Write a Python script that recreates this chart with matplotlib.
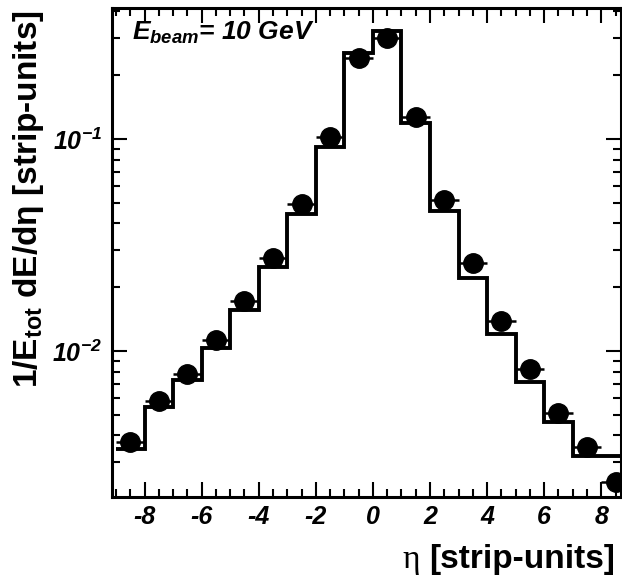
"""Shower profile: 1/E_tot dE/deta vs eta for a 10 GeV beam (data vs simulation)."""
import numpy as np
import matplotlib
matplotlib.use("Agg")
import matplotlib.pyplot as plt
from matplotlib.ticker import LogLocator, NullFormatter, FixedLocator, FixedFormatter, MultipleLocator

plt.rcParams["font.family"] = ["Liberation Sans", "DejaVu Sans"]
plt.rcParams["axes.unicode_minus"] = False
plt.rcParams["mathtext.fontset"] = "custom"
plt.rcParams["mathtext.rm"] = "Liberation Sans:bold"
plt.rcParams["mathtext.it"] = "Liberation Sans:bold:italic"
plt.rcParams["mathtext.sf"] = "Liberation Sans:bold:italic"
plt.rcParams["mathtext.bf"] = "Liberation Sans:bold"

# bin edges in strip units
edges = np.arange(-9, 10, 1)

# simulation histogram (one value per bin)
sim = [0.00344, 0.00546, 0.0073, 0.0103, 0.0157, 0.0249, 0.0443, 0.092, 0.255,
       0.324, 0.119, 0.0459, 0.0220, 0.0120, 0.00716, 0.00465, 0.00321, 0.00321]

# measured points at bin centres
eta = [-8.5, -7.5, -6.5, -5.5, -4.5, -3.5, -2.5, -1.5, -0.5,
       0.5, 1.5, 2.5, 3.5, 4.5, 5.5, 6.5, 7.5, 8.5]
data = [0.00373, 0.00584, 0.00776, 0.0113, 0.0172, 0.0275, 0.0493, 0.102, 0.241,
        0.299, 0.127, 0.0515, 0.0260, 0.0139, 0.0082, 0.00508, 0.00354, 0.00242]

x_ticks = [-8, -6, -4, -2, 0, 2, 4, 6, 8]
x_ticklabels = ["-8", "-6", "-4", "-2", "0", "2", "4", "6", "8"]
y_ticks = [1e-2, 1e-1]
y_ticklabels = [r"$\mathsf{10^{-2}}$", r"$\mathsf{10^{-1}}$"]

fig = plt.figure(figsize=(6.22, 5.79), dpi=100)
ax = fig.add_axes([112 / 622, 82 / 579, 509 / 622, 489 / 579])

ax.stairs(sim, edges, baseline=None, color="black", linewidth=2.8)
ax.errorbar(eta, data, xerr=0.5, fmt="o", color="black", markersize=14,
            elinewidth=1.8, capsize=0)

ax.set_yscale("log")
ax.set_xlim(-9.14, 8.69)
ax.set_ylim(0.00205, 0.415)

ax.xaxis.set_major_locator(FixedLocator(x_ticks))
ax.xaxis.set_major_formatter(FixedFormatter(x_ticklabels))
ax.xaxis.set_minor_locator(MultipleLocator(0.5))
ax.yaxis.set_major_locator(FixedLocator(y_ticks))
ax.yaxis.set_major_formatter(FixedFormatter(y_ticklabels))
ax.yaxis.set_minor_locator(LogLocator(base=10, subs=np.arange(2, 10)))
ax.yaxis.set_minor_formatter(NullFormatter())

ax.tick_params(which="both", direction="in", top=True, right=True, width=1.5)
ax.tick_params(which="major", length=11)
ax.tick_params(which="minor", length=5.5)
ax.tick_params(axis="x", pad=6)
ax.tick_params(axis="y", pad=7)
for lab in ax.get_xticklabels() + ax.get_yticklabels():
    lab.set_fontsize(18)
    lab.set_fontweight("bold")
    lab.set_fontstyle("italic")
for sp in ax.spines.values():
    sp.set_linewidth(2.2)

ax.text(0.039, 0.935, r"$\mathit{E_{beam}}$= 10 GeV", transform=ax.transAxes,
        fontsize=19, fontweight="bold", fontstyle="italic", va="baseline")

fig.text(29 / 622, 1 - 10 / 579, r"1/E$_{\mathrm{tot}}$ dE/dη [strip-units]",
         rotation=90, ha="center", va="top", fontsize=24, fontweight="bold")

xl = fig.text(615 / 622, 4 / 579, "[strip-units]", ha="right", va="bottom",
              fontsize=24, fontweight="bold")
ax.annotate("η ", xy=(0, 0), xycoords=xl, ha="right", va="bottom",
            fontsize=24, family="Liberation Serif", annotation_clip=False)

fig.savefig("out.png", dpi=100)
